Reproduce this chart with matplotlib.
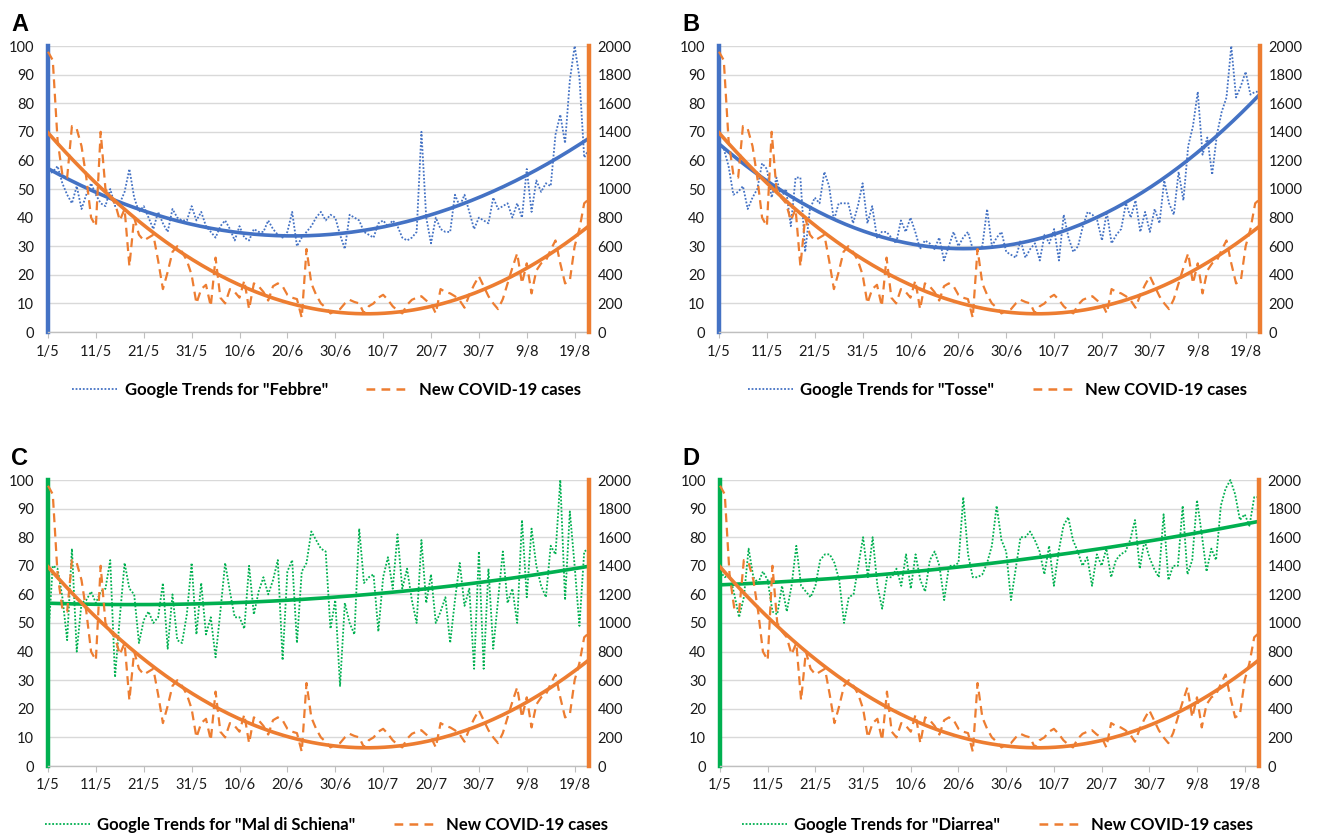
import matplotlib
matplotlib.use('Agg')
import matplotlib.pyplot as plt
import numpy as np
from matplotlib.lines import Line2D

plt.rcParams['font.family'] = ['Lato', 'DejaVu Sans']

# daily values, 1/5 to 22/8
new_cases = [1960, 1900, 1340, 1100, 1080, 1440, 1420, 1300, 1080, 800,
             740, 1400, 1000, 940, 900, 780, 860, 460, 800, 680,
             640, 660, 680, 500, 300, 420, 560, 600, 560, 500,
             400, 200, 300, 330, 180, 520, 240, 200, 300, 280,
             240, 360, 160, 340, 320, 280, 220, 320, 340, 320,
             260, 240, 230, 100, 580, 340, 260, 200, 170, 130,
             150, 160, 200, 225, 210, 200, 130, 180, 200, 240,
             260, 225, 180, 150, 130, 190, 225, 240, 250, 220,
             200, 130, 300, 280, 270, 250, 220, 170, 260, 330,
             390, 320, 250, 200, 160, 230, 340, 450, 550, 340,
             480, 270, 430, 480, 500, 575, 640, 480, 340, 360,
             600, 720, 900, 930]

febbre = [55, 56, 58, 52, 48, 45, 51, 43, 48, 52,
          48, 45, 44, 50, 44, 45, 49, 57, 47, 42,
          44, 40, 36, 42, 38, 35, 43, 40, 39, 39,
          44, 39, 42, 37, 35, 33, 37, 39, 36, 32,
          37, 33, 32, 36, 35, 35, 39, 36, 34, 33,
          35, 42, 30, 33, 35, 37, 40, 42, 39, 41,
          40, 34, 29, 41, 40, 39, 35, 34, 33, 38,
          39, 37, 39, 37, 33, 32, 33, 35, 70, 40,
          31, 40, 36, 35, 35, 48, 44, 48, 42, 36,
          40, 39, 38, 47, 43, 44, 45, 40, 45, 40,
          57, 42, 53, 49, 52, 51, 69, 76, 66, 88,
          100, 89, 61, 64]

tosse = [66, 64, 58, 48, 49, 51, 43, 47, 50, 59,
         57, 47, 54, 47, 50, 37, 54, 54, 28, 43,
         47, 45, 56, 51, 39, 45, 45, 45, 38, 44,
         52, 38, 44, 33, 35, 35, 33, 31, 39, 35,
         40, 35, 29, 32, 31, 29, 33, 25, 30, 35,
         30, 33, 35, 29, 29, 30, 43, 30, 33, 35,
         28, 27, 26, 32, 26, 29, 31, 25, 34, 31,
         36, 25, 41, 33, 28, 30, 37, 42, 41, 39,
         32, 42, 31, 34, 36, 45, 40, 46, 35, 42,
         35, 43, 38, 53, 45, 41, 56, 46, 65, 72,
         84, 62, 68, 55, 69, 77, 82, 100, 82, 86,
         91, 83, 84, 84]

schiena = [44, 70, 69, 59, 44, 76, 40, 57, 58, 61,
           57, 61, 62, 72, 31, 52, 71, 62, 60, 43,
           51, 54, 50, 52, 64, 41, 60, 44, 43, 53,
           71, 46, 64, 46, 52, 38, 54, 71, 61, 52,
           52, 48, 70, 53, 61, 66, 60, 65, 72, 37,
           68, 72, 43, 68, 71, 82, 79, 76, 75, 48,
           58, 28, 57, 50, 46, 83, 64, 66, 67, 47,
           66, 73, 62, 81, 62, 69, 58, 50, 79, 57,
           67, 50, 54, 59, 43, 58, 71, 56, 62, 34,
           75, 34, 69, 41, 58, 75, 57, 62, 50, 86,
           59, 83, 70, 63, 59, 77, 74, 100, 58, 89,
           70, 49, 75, 76]

diarrea = [68, 66, 67, 60, 52, 59, 76, 66, 64, 68,
           65, 54, 53, 63, 54, 63, 77, 63, 61, 59,
           63, 72, 74, 74, 71, 65, 50, 59, 60, 70,
           80, 66, 80, 63, 55, 66, 66, 69, 63, 74,
           62, 74, 65, 61, 72, 75, 70, 58, 70, 70,
           71, 94, 74, 66, 66, 67, 71, 77, 91, 79,
           75, 58, 69, 80, 80, 82, 79, 75, 67, 77,
           63, 75, 84, 87, 79, 75, 70, 73, 63, 74,
           70, 76, 66, 72, 74, 75, 79, 86, 69, 79,
           73, 69, 66, 88, 65, 70, 70, 91, 67, 72,
           93, 81, 68, 76, 72, 91, 97, 100, 95, 86,
           88, 84, 94, 94]

date_labels = ['1/5', '11/5', '21/5', '31/5', '10/6', '20/6',
               '30/6', '10/7', '20/7', '30/7', '9/8', '19/8']

BLUE = '#4472C4'
ORANGE = '#ED7D31'
GREEN = '#00B050'

W, H = 1320, 835
fig = plt.figure(figsize=(W / 100, H / 100), dpi=100)


def px_axes(left, top, right, bottom):
    return fig.add_axes([left / W, 1 - bottom / H, (right - left) / W, (bottom - top) / H])


def panel(box, trend, color, word, letter, letter_xy, legend_y):
    ax = px_axes(*box)
    ax2 = ax.twinx()
    days = np.arange(len(trend))
    dense = np.linspace(0, len(trend) - 1, 300)

    ax.plot(days, trend, color=color, lw=1.3, ls=(0, (1, 1)), clip_on=False, zorder=3)
    c1 = np.polyfit(days, trend, 2)
    ax.plot(dense, np.polyval(c1, dense), color=color, lw=2.6, zorder=4)

    ax2.plot(days, new_cases, color=ORANGE, lw=1.6, ls=(0, (4, 2.5)), clip_on=False, zorder=3)
    c2 = np.polyfit(days, new_cases, 2)
    ax2.plot(dense, np.polyval(c2, dense), color=ORANGE, lw=2.6, zorder=4)

    ax.set_xlim(0, len(trend) - 1)
    ax.set_ylim(0, 100)
    ax2.set_ylim(0, 2000)
    ax.set_yticks(np.arange(0, 101, 10))
    ax2.set_yticks(np.arange(0, 2001, 200))
    ax.set_xticks(np.arange(0, len(trend), 10))
    ax.set_xticklabels(date_labels)
    ax.grid(axis='y', color='#D9D9D9', lw=1)
    ax.set_axisbelow(True)

    for s in ['top', 'right']:
        ax.spines[s].set_visible(False)
    for s in ['top', 'left', 'bottom']:
        ax2.spines[s].set_visible(False)
    ax.spines['left'].set_color(color)
    ax.spines['left'].set_linewidth(3.2)
    ax.spines['bottom'].set_color('#BFBFBF')
    ax.spines['bottom'].set_linewidth(1)
    ax2.spines['right'].set_color(ORANGE)
    ax2.spines['right'].set_linewidth(3.2)

    ax.tick_params(axis='y', length=0, pad=10, labelsize=10.5, labelcolor='#1a1a1a')
    ax2.tick_params(axis='y', length=0, pad=6, labelsize=10.5, labelcolor='#1a1a1a')
    ax.tick_params(axis='x', length=4, color='#BFBFBF', pad=5, labelsize=10.5, labelcolor='#1a1a1a')

    fig.text(letter_xy[0] / W, 1 - letter_xy[1] / H, letter, fontsize=17,
             fontweight='bold', family='Liberation Sans', va='top', ha='left')

    handles = [Line2D([], [], color=color, lw=1.3, ls=(0, (1, 1))),
               Line2D([], [], color=ORANGE, lw=1.8, ls=(0, (3.5, 2.5)))]
    labels = ['Google Trends for "%s"' % word, 'New COVID-19 cases']
    cx = (box[0] + box[2]) / 2 + 8
    fig.legend(handles, labels, loc='center', bbox_to_anchor=(cx / W, 1 - legend_y / H),
               ncol=2, frameon=False, borderpad=0, handlelength=2.7, handletextpad=0.45,
               columnspacing=2.3, prop={'weight': 'bold', 'size': 12})


panel((48, 46, 589, 332), febbre, BLUE, 'Febbre', 'A', (11, 13), 390)
panel((719, 46, 1260, 332), tosse, BLUE, 'Tosse', 'B', (682, 13), 390)
panel((48, 480, 589, 766), schiena, GREEN, 'Mal di Schiena', 'C', (11, 447), 825)
panel((720, 480, 1259, 766), diarrea, GREEN, 'Diarrea', 'D', (682, 447), 825)

plt.savefig('out.png', dpi=100)
